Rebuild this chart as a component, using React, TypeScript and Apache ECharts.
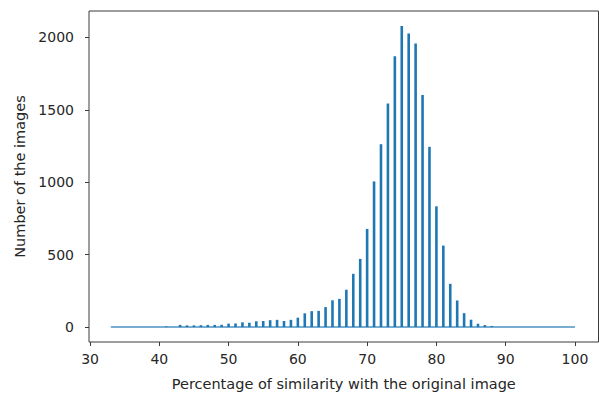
import React, { useEffect, useRef } from "react";
import * as echarts from "echarts";

const similarity = [
  41, 43, 44, 45, 46, 47, 48, 49, 50, 51, 52, 53, 54, 55, 56, 57, 58, 59, 60,
  61, 62, 63, 64, 65, 66, 67, 68, 69, 70, 71, 72, 73, 74, 75, 76, 77, 78, 79,
  80, 81, 82, 83, 84, 85, 86, 87, 88,
];
const imageCounts = [
  5, 15, 12, 12, 13, 15, 15, 16, 24, 25, 33, 30, 40, 42, 48, 50, 42, 50, 65,
  95, 110, 112, 138, 185, 195, 258, 368, 471, 678, 1006, 1263, 1544, 1870,
  2080, 2028, 1959, 1603, 1245, 834, 563, 299, 184, 96, 51, 23, 14, 8,
];
const binRange = [33, 100];
const xTicks = [30, 40, 50, 60, 70, 80, 90, 100];
const yTicks = [0, 500, 1000, 1500, 2000];

export default function App() {
  const ref = useRef<HTMLDivElement>(null);
  useEffect(() => {
    if (!ref.current) return;
    const chart = echarts.init(ref.current, null, { renderer: "svg" });
    const font = "DejaVu Sans";
    const textColor = "#262626";
    chart.setOption({
      animation: false,
      backgroundColor: "#ffffff",
      grid: {
        left: 89,
        top: 11,
        width: 509.5,
        height: 333,
        show: true,
        borderColor: "#3a3a3a",
        borderWidth: 1,
        backgroundColor: "transparent",
      },
      xAxis: {
        type: "value",
        min: 29.85,
        max: 103.4,
        axisLine: { show: false, onZero: false },
        splitLine: { show: false },
        axisTick: {
          show: true,
          length: 4,
          customValues: xTicks,
          lineStyle: { color: "#3a3a3a", width: 1 },
        },
        axisLabel: {
          customValues: xTicks,
          margin: 10,
          color: textColor,
          fontFamily: font,
          fontSize: 14,
          formatter: (v: number) => String(v),
        },
        name: "Percentage of similarity with the original image",
        nameLocation: "middle",
        nameGap: 34,
        nameTextStyle: { color: textColor, fontFamily: font, fontSize: 14.5 },
      },
      yAxis: {
        type: "value",
        min: -103,
        max: 2183,
        axisLine: { show: false, onZero: false },
        splitLine: { show: false },
        axisTick: {
          show: true,
          length: 4,
          customValues: yTicks,
          lineStyle: { color: "#3a3a3a", width: 1 },
        },
        axisLabel: {
          customValues: yTicks,
          margin: 15,
          color: textColor,
          fontFamily: font,
          fontSize: 14,
          formatter: (v: number) => String(v),
        },
        name: "Number of the images",
        nameLocation: "middle",
        nameGap: 62,
        nameTextStyle: { color: textColor, fontFamily: font, fontSize: 14.5 },
      },
      series: [
        {
          type: "line",
          data: binRange.map((x) => [x, 0]),
          showSymbol: false,
          silent: true,
          lineStyle: { color: "rgba(31,119,180,0.6)", width: 2 },
          z: 1,
        },
        {
          type: "bar",
          data: similarity.map((x, i) => [x, imageCounts[i]]),
          barWidth: 2.6,
          itemStyle: { color: "#1f77b4" },
          z: 2,
        },
      ],
    });
    return () => chart.dispose();
  }, []);
  return (
    <div
      ref={ref}
      style={{ position: "fixed", left: 0, top: 0, width: 599, height: 396 }}
    />
  );
}
